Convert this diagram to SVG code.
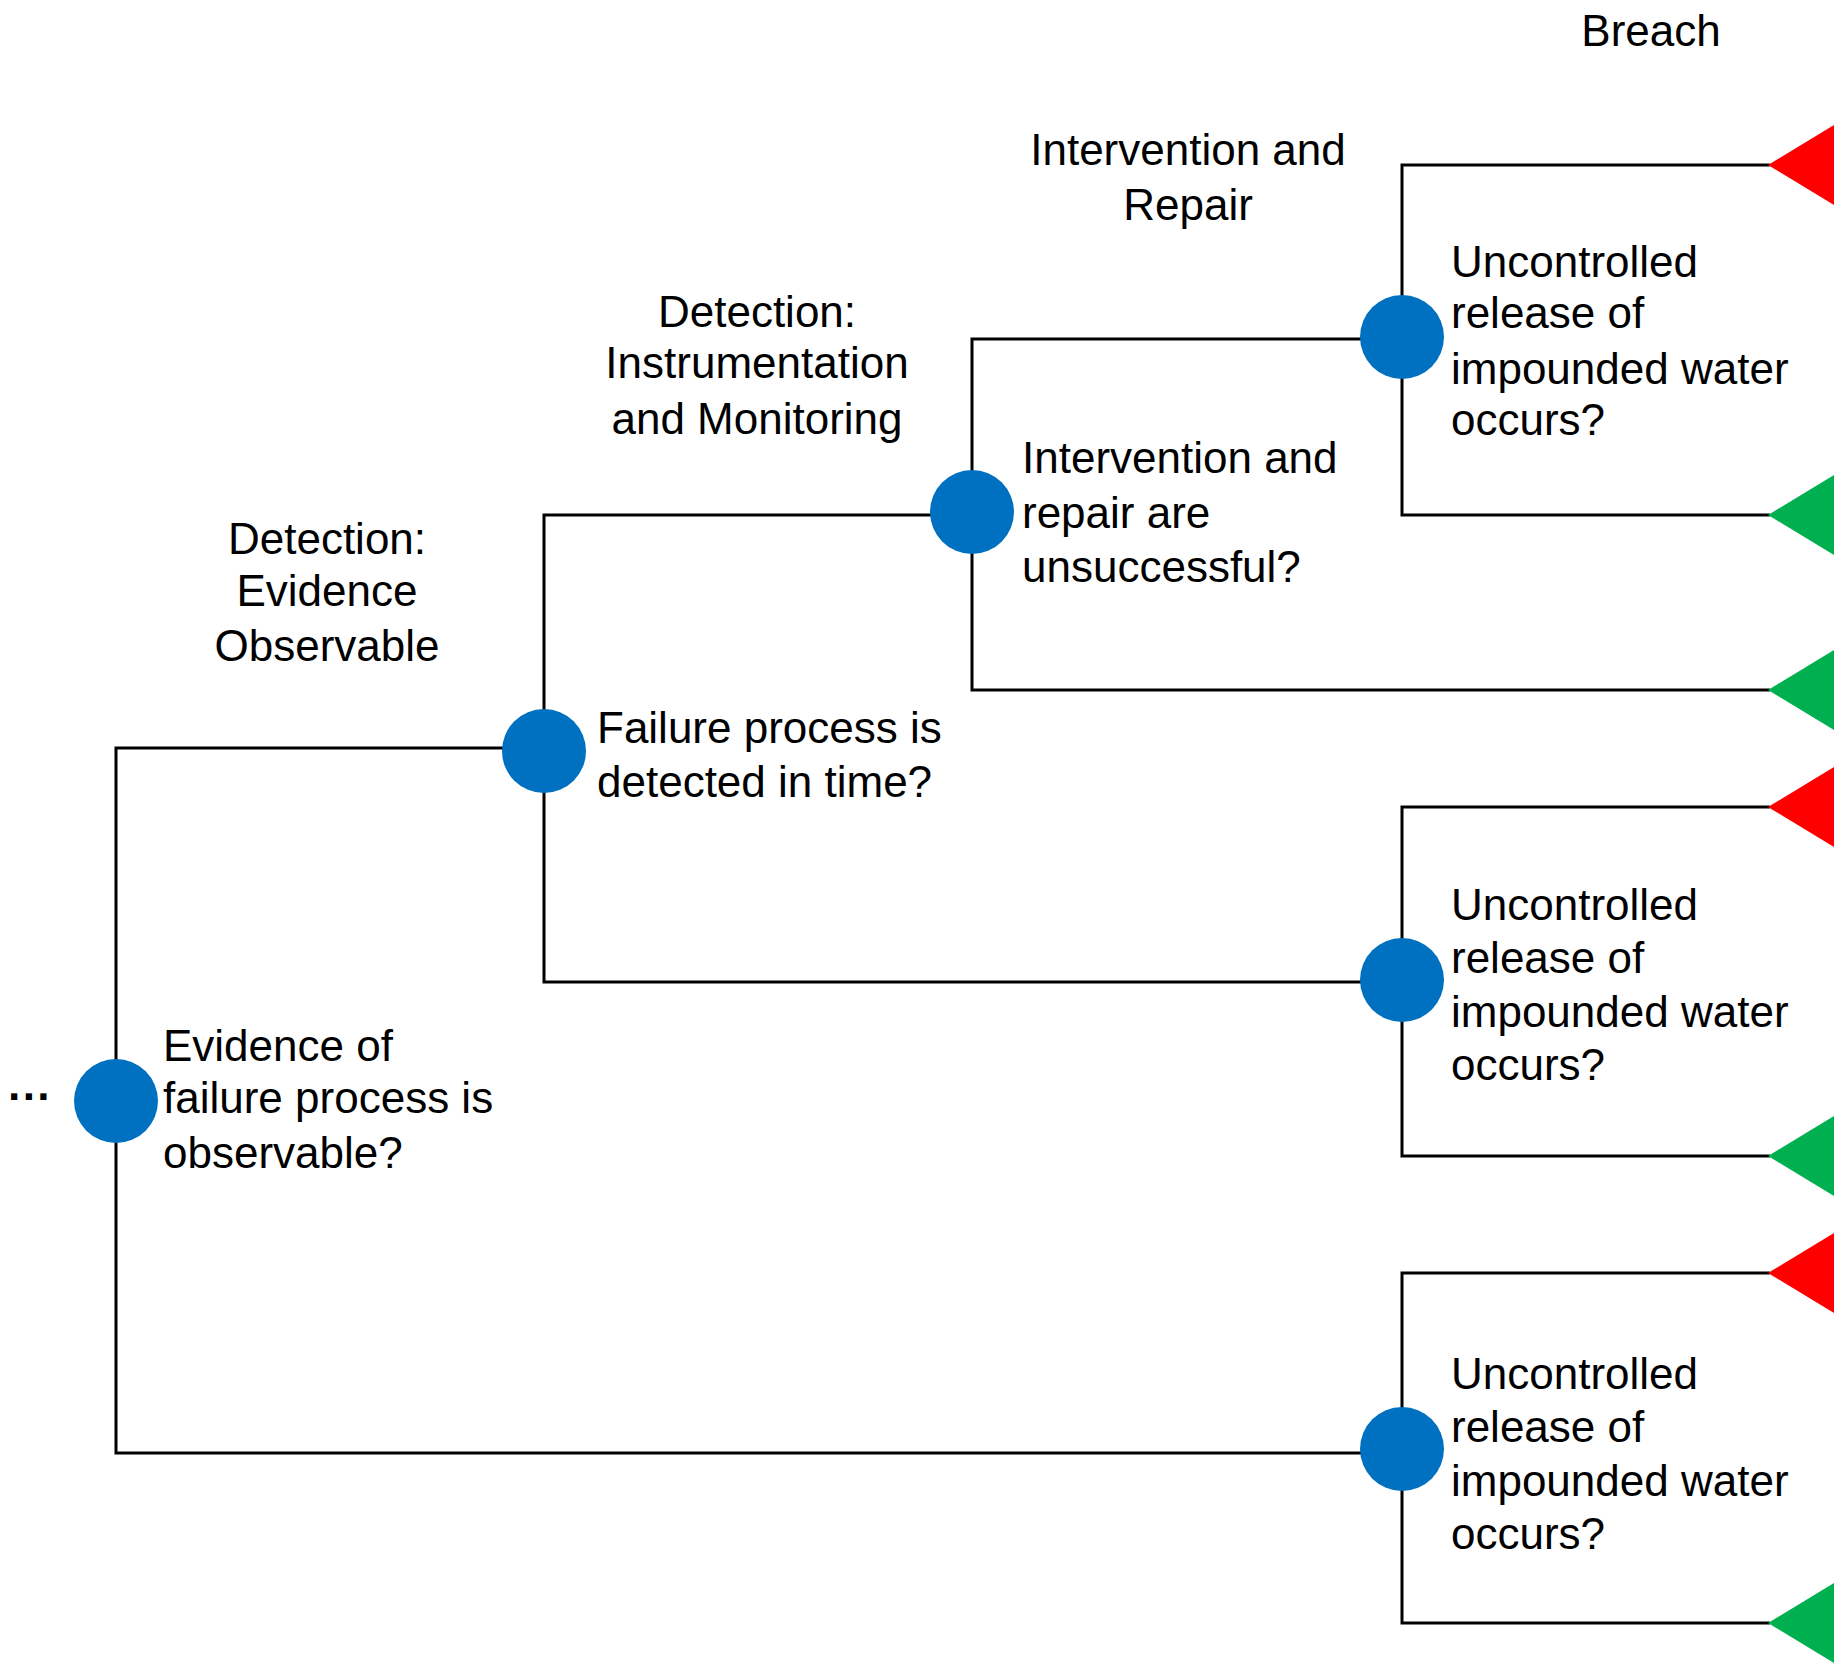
<svg xmlns="http://www.w3.org/2000/svg" width="1845" height="1674" viewBox="0 0 1845 1674">
<style>
text{font-family:"Liberation Sans",Arial,sans-serif;font-size:44px;fill:#000}
.c{text-anchor:middle}
.ln{fill:none;stroke:#000;stroke-width:3}
.node{fill:#0070C0}
.r{fill:#FF0000}.g{fill:#00B050}
</style>
<rect width="1845" height="1674" fill="#fff"/>
<g id="connectors" class="ln">
<polyline points="544,751 544,515 972,515"/>
<polyline points="116,1101 116,748 544,748"/>
<polyline points="116,1101 116,1453 1402,1453"/>
<polyline points="544,751 544,982 1402,982"/>
<polyline points="972,512 972,339 1402,339"/>
<polyline points="972,512 972,690 1770,690"/>
<polyline points="1770,165 1402,165 1402,515 1770,515"/>
<polyline points="1770,807 1402,807 1402,1156 1770,1156"/>
<polyline points="1770,1273 1402,1273 1402,1623 1770,1623"/>
</g>
<g id="headers">
<text x="1651" y="46" class="c">Breach</text>
<text x="1188" y="165" class="c">Intervention  and</text>
<text x="1188" y="220" class="c">Repair</text>
<text x="757" y="327" class="c">Detection:</text>
<text x="757" y="378" class="c">Instrumentation</text>
<text x="757" y="434" class="c">and Monitoring</text>
<text x="327" y="554" class="c">Detection:</text>
<text x="327" y="606" class="c">Evidence</text>
<text x="327" y="661" class="c">Observable</text>
</g>
<g id="start"><text x="8" y="1112" font-weight="bold">···</text></g>
<g id="n1"><circle class="node" cx="116" cy="1101" r="42"/>
<text x="163" y="1061">Evidence of</text><text x="163" y="1113">failure process is</text><text x="163" y="1168">observable?</text></g>
<g id="n2"><circle class="node" cx="544" cy="751" r="42"/>
<text x="597" y="743">Failure process is</text><text x="597" y="797">detected in time?</text></g>
<g id="n3"><circle class="node" cx="972" cy="512" r="42"/>
<text x="1022" y="473">Intervention  and</text><text x="1022" y="528">repair are</text><text x="1022" y="582">unsuccessful?</text></g>
<g id="n4"><circle class="node" cx="1402" cy="337" r="42"/>
<text x="1451" y="277">Uncontrolled</text><text x="1451" y="328">release of</text><text x="1451" y="384">impounded water</text><text x="1451" y="435">occurs?</text></g>
<g id="n5"><circle class="node" cx="1402" cy="980" r="42"/>
<text x="1451" y="920">Uncontrolled</text><text x="1451" y="973">release of</text><text x="1451" y="1027">impounded water</text><text x="1451" y="1080">occurs?</text></g>
<g id="n6"><circle class="node" cx="1402" cy="1449" r="42"/>
<text x="1451" y="1389">Uncontrolled</text><text x="1451" y="1442">release of</text><text x="1451" y="1496">impounded water</text><text x="1451" y="1549">occurs?</text></g>
<g id="t1"><polygon class="r" points="1768,165 1834,125 1834,205"/></g>
<g id="t2"><polygon class="g" points="1768,515 1834,475 1834,555"/></g>
<g id="t3"><polygon class="g" points="1768,690 1834,650 1834,730"/></g>
<g id="t4"><polygon class="r" points="1768,807 1834,767 1834,847"/></g>
<g id="t5"><polygon class="g" points="1768,1156 1834,1116 1834,1196"/></g>
<g id="t6"><polygon class="r" points="1768,1273 1834,1233 1834,1313"/></g>
<g id="t7"><polygon class="g" points="1768,1623 1834,1583 1834,1663"/></g>
</svg>
